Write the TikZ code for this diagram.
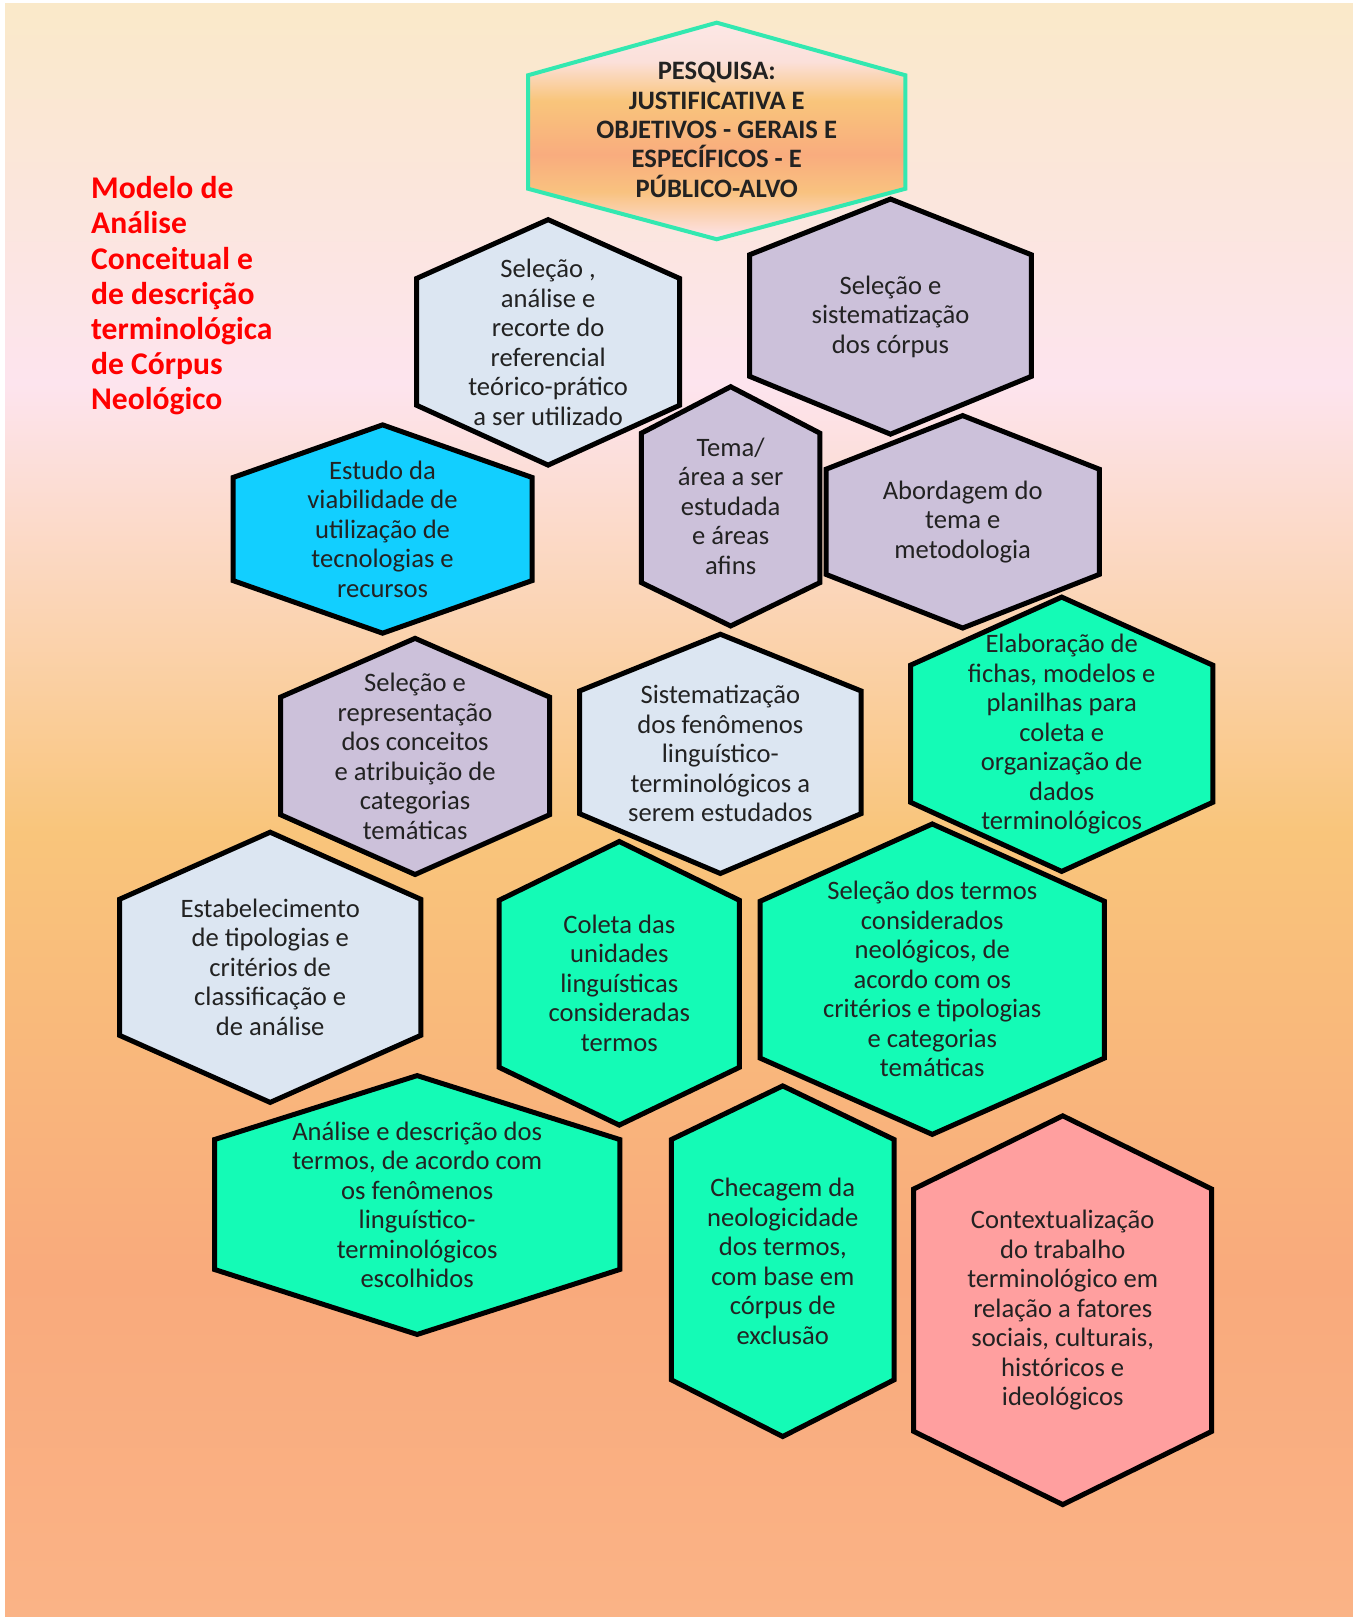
\documentclass[tikz,border=0pt]{standalone}
\usepackage{fontspec}
\setmainfont{Carlito}
\usetikzlibrary{shadings}
\definecolor{bgA}{HTML}{FAE9C9}
\definecolor{bgB}{HTML}{FBE6DC}
\definecolor{bgC}{HTML}{FDE4EE}
\definecolor{bgD}{HTML}{F9C57B}
\definecolor{bgE}{HTML}{F9AA7C}
\definecolor{bgF}{HTML}{FAB386}
\definecolor{hxA}{HTML}{FCE8E6}
\definecolor{hxB}{HTML}{FBE0DA}
\definecolor{hxC}{HTML}{F9C57B}
\definecolor{hxD}{HTML}{F9AC7E}
\definecolor{hxE}{HTML}{F9C27F}
\definecolor{hxF}{HTML}{FDE4EC}
\definecolor{lblue}{HTML}{DCE6F2}
\definecolor{lav}{HTML}{CCC1DA}
\definecolor{cyanbox}{HTML}{12CFFF}
\definecolor{greenbox}{HTML}{14FBB6}
\definecolor{pinkbox}{HTML}{FF9F9F}
\definecolor{tealline}{HTML}{33E8B0}
\definecolor{txtcol}{HTML}{222222}
\pgfdeclareverticalshading{bgshade}{100bp}{color(0bp)=(bgF); color(25bp)=(bgF); color(35.5bp)=(bgE); color(49.3bp)=(bgD); color(63.2bp)=(bgC); color(69.1bp)=(bgB); color(75bp)=(bgA); color(100bp)=(bgA)}
\pgfdeclareverticalshading{topshade}{100bp}{color(0bp)=(hxF); color(25bp)=(hxF); color(36bp)=(hxE); color(44.5bp)=(hxD); color(57bp)=(hxC); color(66bp)=(hxB); color(75bp)=(hxA); color(100bp)=(hxA)}
\tikzset{
  hexbox/.style={draw=black, line width=2.5pt, line join=miter},
  hexlblue/.style={hexbox, fill=lblue},
  hexlav/.style={hexbox, fill=lav},
  hexcyan/.style={hexbox, fill=cyanbox},
  hexgreen/.style={hexbox, fill=greenbox},
  hexpink/.style={hexbox, fill=pinkbox},
  hextop/.style={draw=tealline, line width=2pt, line join=miter, shading=topshade},
  boxtext/.style={align=center, text=txtcol, inner sep=0pt, font=\fontsize{13.3}{14.75}\selectfont},
  toptext/.style={boxtext, font=\fontsize{13.3}{14.7}\selectfont\bfseries},
  titletext/.style={align=left, text=red, inner sep=0pt, anchor=west, font=\fontsize{15.8}{17.6}\selectfont\bfseries}
}
% #1 name, #2 left, #3 right, #4 top, #5 bottom, #6 side top, #7 side bottom, #8 style, #9 text
\newcommand{\hexa}[9]{%
  \path[#8] ({(#2+#3)/2},#4) -- (#3,#6) -- (#3,#7) -- ({(#2+#3)/2},#5) -- (#2,#7) -- (#2,#6) -- cycle;
  \node[boxtext] (#1) at ({(#2+#3)/2},{(#4+#5)/2}) {#9};
}
\begin{document}
\begin{tikzpicture}[x=0.5156pt,y=-0.5156pt]
\useasboundingbox (0,0) rectangle (1312,1568);
\fill[white] (0,0) rectangle (1312,1568);
\shade[shading=bgshade] (5,3) rectangle (1312,1568);

\node[titletext] (title) at (88,287) {Modelo de\\Análise\\Conceitual e\\de descrição\\terminológica\\de Córpus\\Neológico};

% top hexagon
\path[hextop] (695,22) -- (878,73) -- (878,183) -- (695,232) -- (512,183) -- (512,73) -- cycle;
\node[toptext] (pesquisa) at (695,126) {PESQUISA:\\JUSTIFICATIVA E\\OBJETIVOS - GERAIS E\\ESPECÍFICOS - E\\PÚBLICO-ALVO};

\hexa{selecao}{404}{659}{213}{451}{270}{393}{hexlblue}{Seleção ,\\análise e\\recorte do\\referencial\\teórico-prático\\a ser utilizado}
\hexa{corpus}{727}{1000}{193}{421}{247}{365}{hexlav}{Seleção e\\sistematização\\dos córpus}
\hexa{tema}{622}{795}{375}{607}{420}{565}{hexlav}{Tema/\\área a ser\\estudada\\e áreas\\afins}
\hexa{abordagem}{801}{1066}{403}{609}{455}{557}{hexlav}{Abordagem do\\tema e\\metodologia}
\hexa{estudo}{226}{516}{412}{614}{463}{563}{hexcyan}{Estudo da\\viabilidade de\\utilização de\\tecnologias e\\recursos}
\hexa{representacao}{272}{533}{619}{848}{676}{790}{hexlav}{Seleção e\\representação\\dos conceitos\\e atribuição de\\categorias\\temáticas}
\hexa{sistematizacao}{562}{835}{615}{847}{670}{789}{hexlblue}{Sistematização\\dos fenômenos\\linguístico-\\terminológicos a\\serem estudados}
\hexa{elaboracao}{883}{1176}{579}{845}{645}{778}{hexgreen}{Elaboração de\\fichas, modelos e\\planilhas para\\coleta e\\organização de\\dados\\terminológicos}
\hexa{estabelecimento}{116}{408}{807}{1069}{872}{1004}{hexlblue}{Estabelecimento\\de tipologias e\\critérios de\\classificação e\\de análise}
\hexa{coleta}{484}{717}{816}{1091}{873}{1035}{hexgreen}{Coleta das\\unidades\\linguísticas\\consideradas\\termos}
\hexa{termos}{737}{1071}{799}{1100}{874}{1026}{hexgreen}{Seleção dos termos\\considerados\\neológicos, de\\acordo com os\\critérios e tipologias\\e categorias\\temáticas}
\hexa{analise}{208}{601}{1043}{1294}{1105}{1231}{hexgreen}{Análise e descrição dos\\termos, de acordo com\\os fenômenos\\linguístico-\\terminológicos\\escolhidos}
\hexa{checagem}{651}{867}{1053}{1393}{1105}{1338}{hexgreen}{Checagem da\\neologicidade\\dos termos,\\com base em\\córpus de\\exclusão}
\hexa{contexto}{886}{1175}{1082}{1459}{1153}{1388}{hexpink}{Contextualização\\do trabalho\\terminológico em\\relação a fatores\\sociais, culturais,\\históricos e\\ideológicos}
\end{tikzpicture}
\end{document}
